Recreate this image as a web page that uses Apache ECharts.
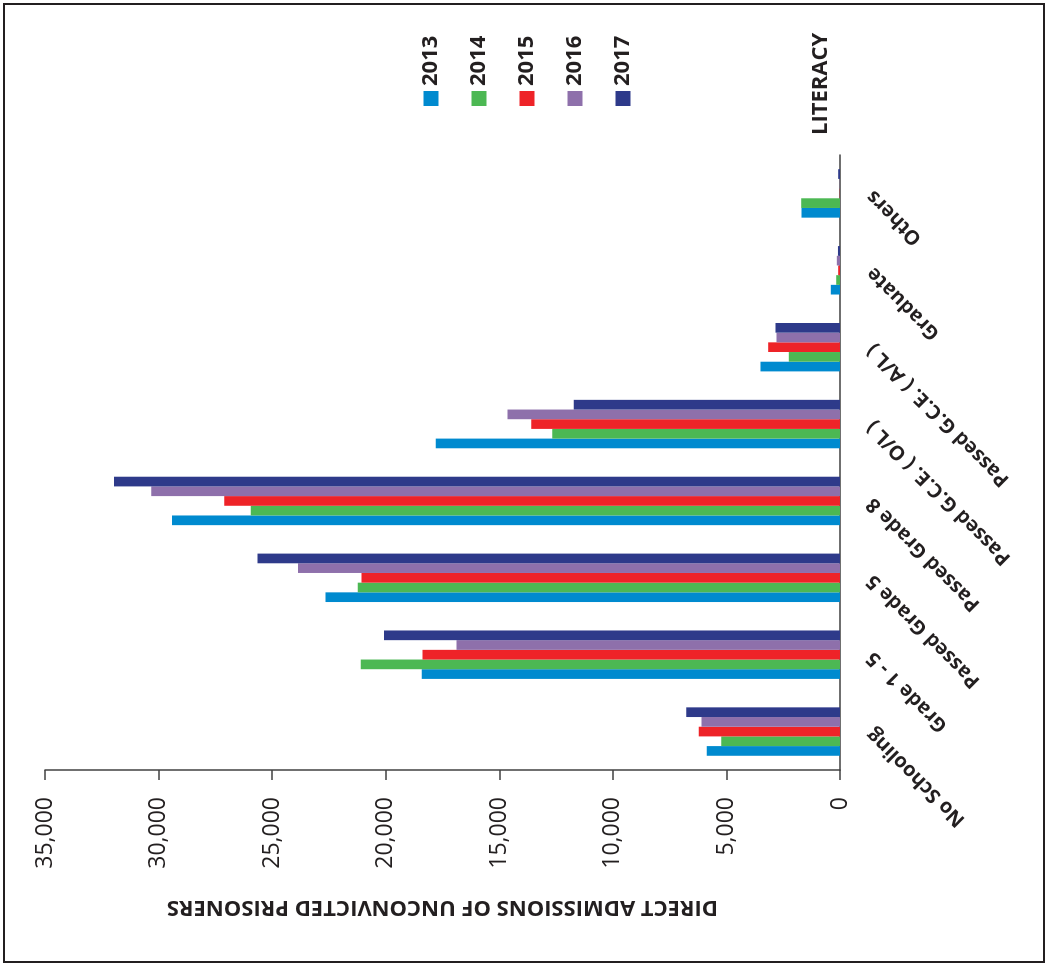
<!DOCTYPE html>
<html>
<head>
<meta charset="utf-8">
<script src="https://cdn.jsdelivr.net/npm/echarts@6/dist/echarts.min.js"></script>
<style>
  html, body { margin: 0; padding: 0; background: #ffffff; width: 1045px; height: 964px; overflow: hidden; }
  #chart {
    position: absolute; left: 0; top: 0;
    width: 964px; height: 1045px;
    transform-origin: 0 0;
    transform: translate(0px, 964px) rotate(-90deg);
  }
  #frame {
    position: absolute; left: 3px; top: 3px; width: 1042px; height: 960px;
    box-sizing: border-box; border: 2.5px solid #231f20; pointer-events: none;
  }
</style>
</head>
<body>
<div id="chart"></div>
<div id="frame"></div>
<script>
const categories = ['No Schooling', 'Grade 1 - 5', 'Passed Grade 5', 'Passed Grade 8',
  'Passed G.C.E. ( O/L )', 'Passed G.C.E. ( A/L )', 'Graduate', 'Others'];
const years = ['2013', '2014', '2015', '2016', '2017'];
const v2013 = [5865, 18415, 22655, 29405, 17798, 3501, 405, 1695];
const v2014 = [5231, 21101, 21233, 25945, 12673, 2254, 167, 1708];
const v2015 = [6217, 18384, 21070, 27103, 13597, 3162, 80, 10];
const v2016 = [6099, 16887, 23857, 30317, 14641, 2796, 140, 10];
const v2017 = [6772, 20070, 25650, 31959, 11722, 2840, 90, 80];
const valueTicks = [0, 5000, 10000, 15000, 20000, 25000, 30000, 35000];
const colors = ['#008acf', '#4cb853', '#ee2328', '#8e70ab', '#2e3a8a'];

const seriesValues = [v2013, v2014, v2015, v2016, v2017];
const textColor = '#231f20';
const axisColor = '#404040';

const chart = echarts.init(document.getElementById('chart'), null, { renderer: 'canvas' });
chart.setOption({
  animation: false,
  backgroundColor: 'transparent',
  color: colors,
  legend: {
    orient: 'vertical',
    left: 853,
    top: 414,
    icon: 'rect',
    itemWidth: 15,
    itemHeight: 15,
    itemGap: 24,
    data: years,
    textStyle: { fontFamily: 'Open Sans', fontWeight: 'bold', fontSize: 22, color: textColor, lineHeight: 24 }
  },
  grid: { left: 194, right: 155, top: 45, bottom: 205, containLabel: false },
  xAxis: {
    type: 'category',
    data: categories,
    axisLine: { show: true, lineStyle: { color: axisColor, width: 1.5 } },
    axisTick: { show: false },
    axisLabel: {
      rotate: 45, margin: 30, interval: 0,
      fontFamily: 'Open Sans', fontWeight: 'bold', fontSize: 20, color: textColor
    },
    name: 'LITERACY',
    nameLocation: 'end',
    nameGap: 20,
    nameTextStyle: {
      fontFamily: 'Open Sans', fontWeight: 'bold', fontSize: 22, color: textColor,
      verticalAlign: 'bottom', padding: [0, 0, 8, 0]
    }
  },
  yAxis: {
    type: 'value',
    min: valueTicks[0],
    max: valueTicks[valueTicks.length - 1],
    interval: 5000,
    axisLine: { show: true, lineStyle: { color: axisColor, width: 1.5 } },
    axisTick: { show: true, length: 10, inside: false, lineStyle: { color: axisColor, width: 1.5 } },
    splitLine: { show: false },
    axisLabel: {
      margin: 27,
      fontFamily: 'Open Sans', fontSize: 23, color: textColor,
      formatter: function (v) { return v.toLocaleString('en-US'); }
    },
    name: 'DIRECT ADMISSIONS OF UNCONVICTED PRISONERS',
    nameLocation: 'middle',
    nameRotate: 90,
    nameGap: 126,
    nameTextStyle: { fontFamily: 'Open Sans', fontWeight: 'bold', fontSize: 22, color: textColor }
  },
  series: years.map(function (y, i) {
    return {
      name: y,
      type: 'bar',
      data: seriesValues[i],
      barGap: '0%',
      barCategoryGap: '37%',
      itemStyle: { color: colors[i] }
    };
  })
});
</script>
</body>
</html>
